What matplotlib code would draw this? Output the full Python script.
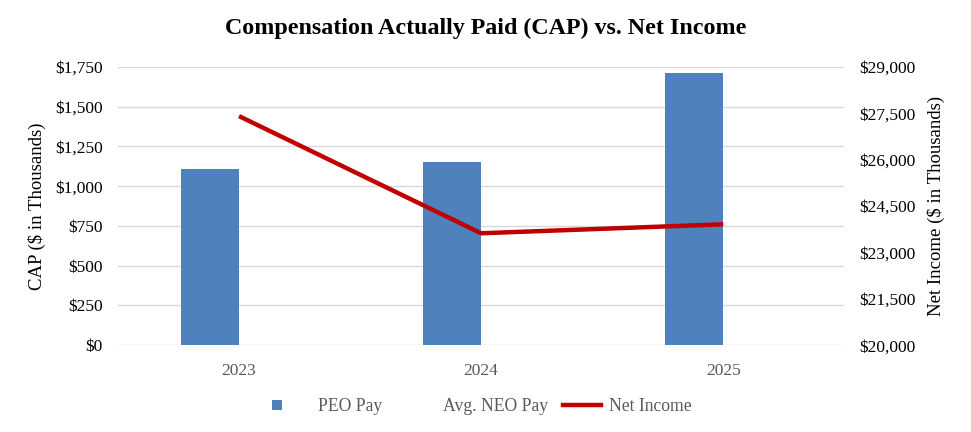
import numpy as np
import matplotlib.pyplot as plt
from matplotlib.lines import Line2D
from matplotlib.patches import Patch, Rectangle
from matplotlib.legend_handler import HandlerBase
from matplotlib.ticker import FuncFormatter

plt.rcParams["font.family"] = ["Liberation Serif", "DejaVu Serif"]

# data (values in $ thousands)
years = ["2023", "2024", "2025"]
peo_pay = [1110, 1150, 1715]
neo_pay = [0, 0, 0]
net_income = [27410, 23620, 23910]

BAR = "#4F81BD"
LINE = "#C00000"
GRID = "#D9D9D9"
TXT = "#595959"


class LeftSquare(HandlerBase):
    # legend key drawn as a small square at the left of the handle box
    def create_artists(self, legend, orig_handle, xdescent, ydescent,
                       width, height, fontsize, trans):
        s = 7.2
        r = Rectangle((-xdescent, -ydescent + (height - s) / 2), s, s,
                      facecolor=orig_handle.get_facecolor(), edgecolor="none",
                      transform=trans)
        return [r]


fig = plt.figure(figsize=(9.71, 4.32), dpi=100)
ax = fig.add_axes([0.1215, 0.201, 0.748, 0.644])
ax2 = ax.twinx()

x = np.arange(len(years))
w = 0.24
ax.bar(x - w / 2, peo_pay, w, color=BAR, zorder=2)
ax.bar(x + w / 2, neo_pay, w, color="white", zorder=2)
ax2.plot(x, net_income, color=LINE, lw=3.2, solid_capstyle="butt", zorder=3)

ax.set_xlim(-0.5, 2.5)
ax.set_ylim(0, 1750)
ax.set_yticks(np.arange(0, 1751, 250))
ax.yaxis.set_major_formatter(FuncFormatter(lambda v, p: f"${v:,.0f}"))
ax2.set_ylim(20000, 29000)
ax2.set_yticks(np.arange(20000, 29001, 1500))
ax2.yaxis.set_major_formatter(FuncFormatter(lambda v, p: f"${v:,.0f}"))

ax.set_xticks(x)
ax.set_xticklabels(years, color=TXT, fontsize=13.2)
ax.grid(axis="y", color=GRID, lw=1, zorder=0)
ax.set_axisbelow(True)
for a in (ax, ax2):
    for s in a.spines.values():
        s.set_visible(False)
    a.tick_params(length=0, labelsize=12.5)
ax.tick_params(axis="y", pad=11)
ax2.tick_params(axis="y", pad=11)
ax.tick_params(axis="x", pad=13)

ax.set_ylabel("CAP ($ in Thousands)", fontsize=13.5, va="center")
ax.yaxis.set_label_coords(-0.1116, 0.5)
ax2.set_ylabel("Net Income ($ in Thousands)", fontsize=13.5, va="center",
               rotation=90)
ax2.yaxis.set_label_coords(1.1266, 0.5)

fig.suptitle("Compensation Actually Paid (CAP) vs. Net Income",
             fontsize=17.3, fontweight="bold", x=0.5, y=0.958)

handles = [
    Patch(facecolor=BAR),
    Patch(facecolor="none", edgecolor="none"),
    Line2D([], [], color=LINE, lw=3.2),
]
leg = fig.legend(handles, ["PEO Pay", "Avg. NEO Pay", "Net Income"],
                 handler_map={handles[0]: LeftSquare()},
                 loc="lower center", bbox_to_anchor=(0.496, 0.003), ncol=3,
                 frameon=False, fontsize=12.7, handlelength=2.15,
                 columnspacing=0.85, handletextpad=0.45)
for t in leg.get_texts():
    t.set_color(TXT)

fig.savefig("out.png", dpi=100, facecolor="white")
